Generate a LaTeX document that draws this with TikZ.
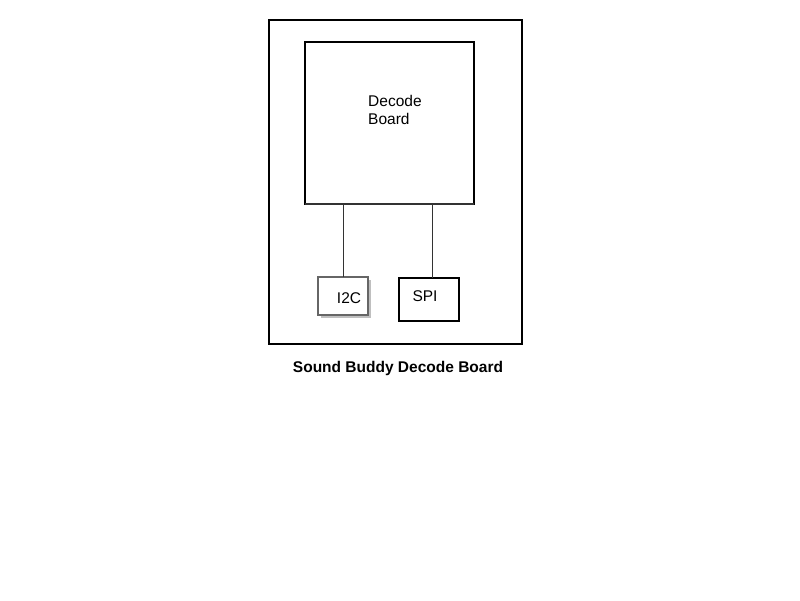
\documentclass[tikz,border=0pt]{standalone}
\usepackage{fontspec}
\setmainfont{Liberation Sans}
\begin{document}
\begin{tikzpicture}[x=1pt,y=-1pt,
  box/.style={draw=black,line width=1.2pt},
  lbl/.style={font=\fontsize{15.5}{18}\selectfont,inner sep=0pt}]
\useasboundingbox (0,0) rectangle (800,600);
\draw[box] (269,20) rectangle (522,344);
\draw[box] (305,42) rectangle (474,204);
\draw[line width=2.2pt,black!80] (305,204) -- (474,204);
\node[lbl,align=left,anchor=north west] (db) at (368,95) {Decode\\Board};
\coordinate (i2ctop) at (343,277);
\coordinate (spitop) at (432,278);
\coordinate (d1) at (343,205);
\coordinate (d2) at (432,205);
\fill[black!25] (321,280) rectangle (371,318);
\draw[draw=black!60,fill=white,line width=1.5pt] (318,277) rectangle (368,315);
\node[lbl] (i2c) at (349,298) {I2C};
\draw[box,line width=1.6pt] (399,278) rectangle (459,321);
\node[lbl] (spi) at (425,296) {SPI};
\draw[black!80,line width=1pt] (d1) -- (i2ctop);
\draw[black!80,line width=1pt] (d2) -- (spitop);
\node[font=\bfseries\fontsize{15.5}{18}\selectfont] (title) at (398,368) {Sound Buddy Decode Board};
\end{tikzpicture}
\end{document}
